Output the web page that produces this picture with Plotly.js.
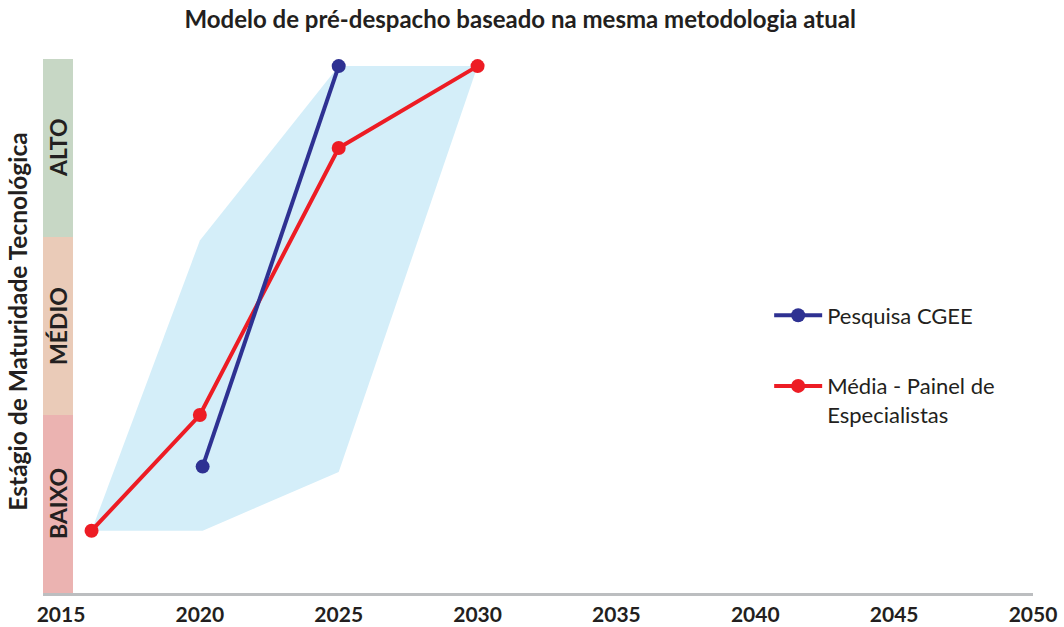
<!DOCTYPE html>
<html>
<head>
<meta charset="utf-8">
<script src="https://cdn.plot.ly/plotly-3.0.1.min.js"></script>
<style>html,body{margin:0;padding:0;background:#fff;}#chart{width:1064px;height:627px;}</style>
</head>
<body>
<div id="chart"></div>
<script>
// Data (maturity level: 0 = bottom of BAIXO, 3 = top of ALTO)
const cgeeYears = [2020.1, 2025];
const cgeeLevels = [0.71, 2.96];
const painelYears = [2016.1, 2020, 2025, 2030];
const painelLevels = [0.35, 1.0, 2.5, 2.96];
const rangeYears = [2016.1, 2020, 2025, 2030, 2025, 2020.1, 2016.1];
const rangeLevels = [0.35, 1.98, 2.96, 2.96, 0.68, 0.35, 0.35];
const stageLabels = ['BAIXO', 'MÉDIO', 'ALTO'];
const stageColors = ['#ebb3b1', '#eacbb8', '#c7d7c5'];
const tickYears = [2015, 2020, 2025, 2030, 2035, 2040, 2045, 2050];

const FONT = 'Lato, "Open Sans", sans-serif';
const DARK = '#231f20';
const BLUE = '#2e3192';
const RED = '#ed1c24';

const traces = [
  {
    x: rangeYears, y: rangeLevels, type: 'scatter', mode: 'lines',
    fill: 'toself', fillcolor: '#d4eef9', line: {width: 0, color: 'rgba(0,0,0,0)'},
    showlegend: false, hoverinfo: 'skip'
  },
  {
    x: painelYears, y: painelLevels, type: 'scatter', mode: 'lines+markers',
    name: 'Média - Painel de<br>Especialistas', legendgroup: 'b', legendrank: 2,
    line: {color: RED, width: 4}, marker: {color: RED, size: 14},
    cliponaxis: false
  },
  {
    x: cgeeYears, y: cgeeLevels, type: 'scatter', mode: 'lines+markers',
    name: 'Pesquisa CGEE', legendgroup: 'a', legendrank: 1,
    line: {color: BLUE, width: 4}, marker: {color: BLUE, size: 14},
    cliponaxis: false
  }
];

// stage bands on the left edge
const xLeft = 2014.352, xBand = 2015.432;
const shapes = stageLabels.map((s, i) => ({
  type: 'rect', xref: 'x', yref: 'y', layer: 'above',
  x0: xLeft, x1: xBand, y0: i === 0 ? -0.012 : i, y1: i + 1,
  fillcolor: stageColors[i], line: {width: 0}
}));
const annotations = stageLabels.map((s, i) => ({
  xref: 'x', yref: 'y', x: (xLeft + xBand) / 2, y: i + 0.5,
  text: '<b>' + s + '</b>', showarrow: false, textangle: -90,
  font: {family: FONT, size: 23, color: DARK}
}));
annotations.push({
  xref: 'paper', yref: 'paper', x: -0.0258, y: 0.509, xanchor: 'center', yanchor: 'middle',
  text: '<b>Estágio de Maturidade Tecnológica</b>', showarrow: false, textangle: -90,
  font: {family: FONT, size: 24.5, color: DARK}
});

const layout = {
  width: 1064, height: 627,
  margin: {l: 43, r: 31, t: 59, b: 34},
  paper_bgcolor: '#ffffff', plot_bgcolor: '#ffffff',
  title: {
    text: '<b>Modelo de pré-despacho baseado na mesma metodologia atual</b>',
    font: {family: FONT, size: 24, color: DARK},
    x: 0.482, xref: 'paper', xanchor: 'center', y: 0.968, yanchor: 'middle'
  },
  xaxis: {
    range: [xLeft, 2050], tickmode: 'array', tickvals: tickYears,
    ticktext: tickYears.map(t => '<b>' + t + '</b>'),
    showgrid: false, zeroline: false, showline: true, linecolor: '#bcbec0', linewidth: 2.5,
    ticks: '', tickfont: {family: FONT, size: 21, color: DARK}, ticklabelstandoff: 1,
    fixedrange: true
  },
  yaxis: {
    range: [0, 3], showgrid: false, zeroline: false, showticklabels: false, ticks: '',
    fixedrange: true
  },
  showlegend: true,
  legend: {
    x: 0.7335, y: 0.559, xanchor: 'left', yanchor: 'top',
    font: {family: FONT, size: 22, color: DARK},
    valign: 'top', tracegroupgap: 39, itemwidth: 48,
    bgcolor: 'rgba(0,0,0,0)'
  },
  shapes: shapes,
  annotations: annotations
};

Plotly.newPlot('chart', traces, layout, {displayModeBar: false, staticPlot: true});
</script>
</body>
</html>
